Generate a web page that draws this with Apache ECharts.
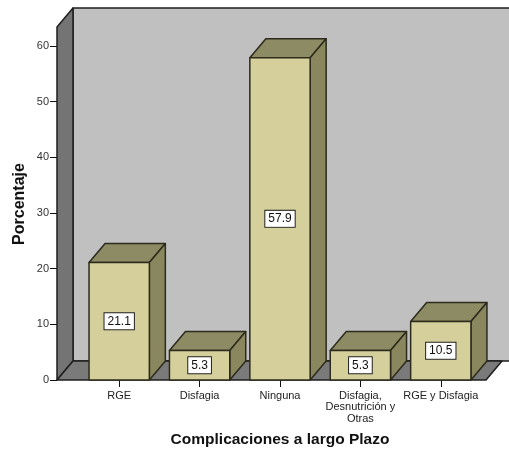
<!DOCTYPE html>
<html>
<head>
<meta charset="utf-8">
<script src="https://cdn.jsdelivr.net/npm/echarts@6/dist/echarts.min.js"></script>
<style>
  html, body { margin: 0; padding: 0; background: #ffffff; }
  #chart { width: 509px; height: 453px; }
</style>
</head>
<body>
<div id="chart"></div>
<script>
// Categories and percentages
const categories = ['RGE', 'Disfagia', 'Ninguna', 'Disfagia,\nDesnutrición y\nOtras', 'RGE y Disfagia'];
const percentages = [21.1, 5.3, 57.9, 5.3, 10.5];
// Value axis ticks
const yMin = 0;
const yMax = 60;
const yStep = 10;
// Height reached by the side and back walls (in axis units)
const wallTop = 63.4;

const FONT = '"Liberation Sans", Arial, sans-serif';
const DX = 16, DY = -19;          // depth offset of the 3D boxes
const FRONT = '#d5d09b', TOP = '#8d8b63', SIDE = '#8a875f', EDGE = '#2c2b1d';

function renderWalls(params, api) {
  const cs = params.coordSys;
  const y0 = api.coord([0, 0])[1];
  const yT = api.coord([0, wallTop])[1];
  const xl = cs.x - 22;
  const xr = cs.x + cs.width + 5;
  const edge = { stroke: '#1e1e1e', lineWidth: 1.5, lineJoin: 'round' };
  return {
    type: 'group',
    children: [
      { type: 'rect', shape: { x: xl + DX, y: yT + DY, width: 600, height: y0 - yT },
        style: Object.assign({ fill: '#c0c0c0' }, edge) },
      { type: 'polygon', shape: { points: [[xl, yT], [xl + DX, yT + DY], [xl + DX, y0 + DY], [xl, y0]] },
        style: Object.assign({ fill: '#747474' }, edge) },
      { type: 'polygon', shape: { points: [[xl, y0], [xr, y0], [xr + DX, y0 + DY], [xl + DX, y0 + DY]] },
        style: Object.assign({ fill: '#7a7a7a' }, edge) }
    ]
  };
}

function renderBar(params, api) {
  const idx = api.value(0);
  const v = api.value(1);
  const base = api.coord([idx, 0]);
  const top = api.coord([idx, v]);
  const w = api.size([1, 0])[0] * 0.75;
  const x0 = base[0] - w / 2, x1 = base[0] + w / 2;
  const yb = base[1], yt = top[1];
  const line = { stroke: EDGE, lineWidth: 1.5, lineJoin: 'round' };
  return {
    type: 'group',
    children: [
      { type: 'polygon', shape: { points: [[x0, yt], [x1, yt], [x1 + DX, yt + DY], [x0 + DX, yt + DY]] },
        style: Object.assign({ fill: TOP }, line) },
      { type: 'polygon', shape: { points: [[x1, yt], [x1 + DX, yt + DY], [x1 + DX, yb + DY], [x1, yb]] },
        style: Object.assign({ fill: SIDE }, line) },
      { type: 'rect', shape: { x: x0, y: yt, width: w, height: yb - yt },
        style: Object.assign({ fill: FRONT }, line) },
      { type: 'text', x: base[0], y: (yb + yt) / 2,
        style: {
          text: v.toFixed(1), fill: '#111', font: '12px ' + FONT,
          align: 'center', verticalAlign: 'middle',
          backgroundColor: '#ffffff', borderColor: '#222', borderWidth: 1, padding: [2, 3]
        } }
    ]
  };
}

const chart = echarts.init(document.getElementById('chart'), null, { renderer: 'canvas' });
chart.setOption({
  animation: false,
  backgroundColor: '#ffffff',
  grid: { left: 79, right: 28, top: 46, bottom: 72 },
  xAxis: {
    type: 'category',
    data: categories,
    axisLine: { show: false },
    axisTick: { show: true, alignWithLabel: true, length: 7, lineStyle: { color: '#111', width: 1 } },
    axisLabel: { color: '#222', fontFamily: FONT, fontSize: 11, lineHeight: 11.5, margin: 10, interval: 0 },
    name: 'Complicaciones a largo Plazo',
    nameLocation: 'middle',
    nameGap: 52,
    nameTextStyle: { color: '#111', fontFamily: FONT, fontSize: 15.5, fontWeight: 'bold' }
  },
  yAxis: {
    type: 'value',
    min: yMin, max: yMax, interval: yStep,
    offset: 22,
    splitLine: { show: false },
    axisLine: { show: false },
    axisTick: { show: true, length: 7, lineStyle: { color: '#111', width: 1 } },
    axisLabel: { color: '#333', fontFamily: FONT, fontSize: 11, margin: 8 },
    name: 'Porcentaje',
    nameLocation: 'middle',
    nameMoveOverlap: false,
    nameGap: 29,
    nameTextStyle: { color: '#111', fontFamily: FONT, fontSize: 16, fontWeight: 'bold', padding: [0, 0, 0, 18] }
  },
  series: [
    { type: 'custom', renderItem: renderWalls, data: [[0, wallTop]], silent: true, z: 1 },
    { type: 'custom', renderItem: renderBar,
      data: percentages.map((p, i) => [i, p]), z: 2 }
  ]
});
</script>
</body>
</html>
